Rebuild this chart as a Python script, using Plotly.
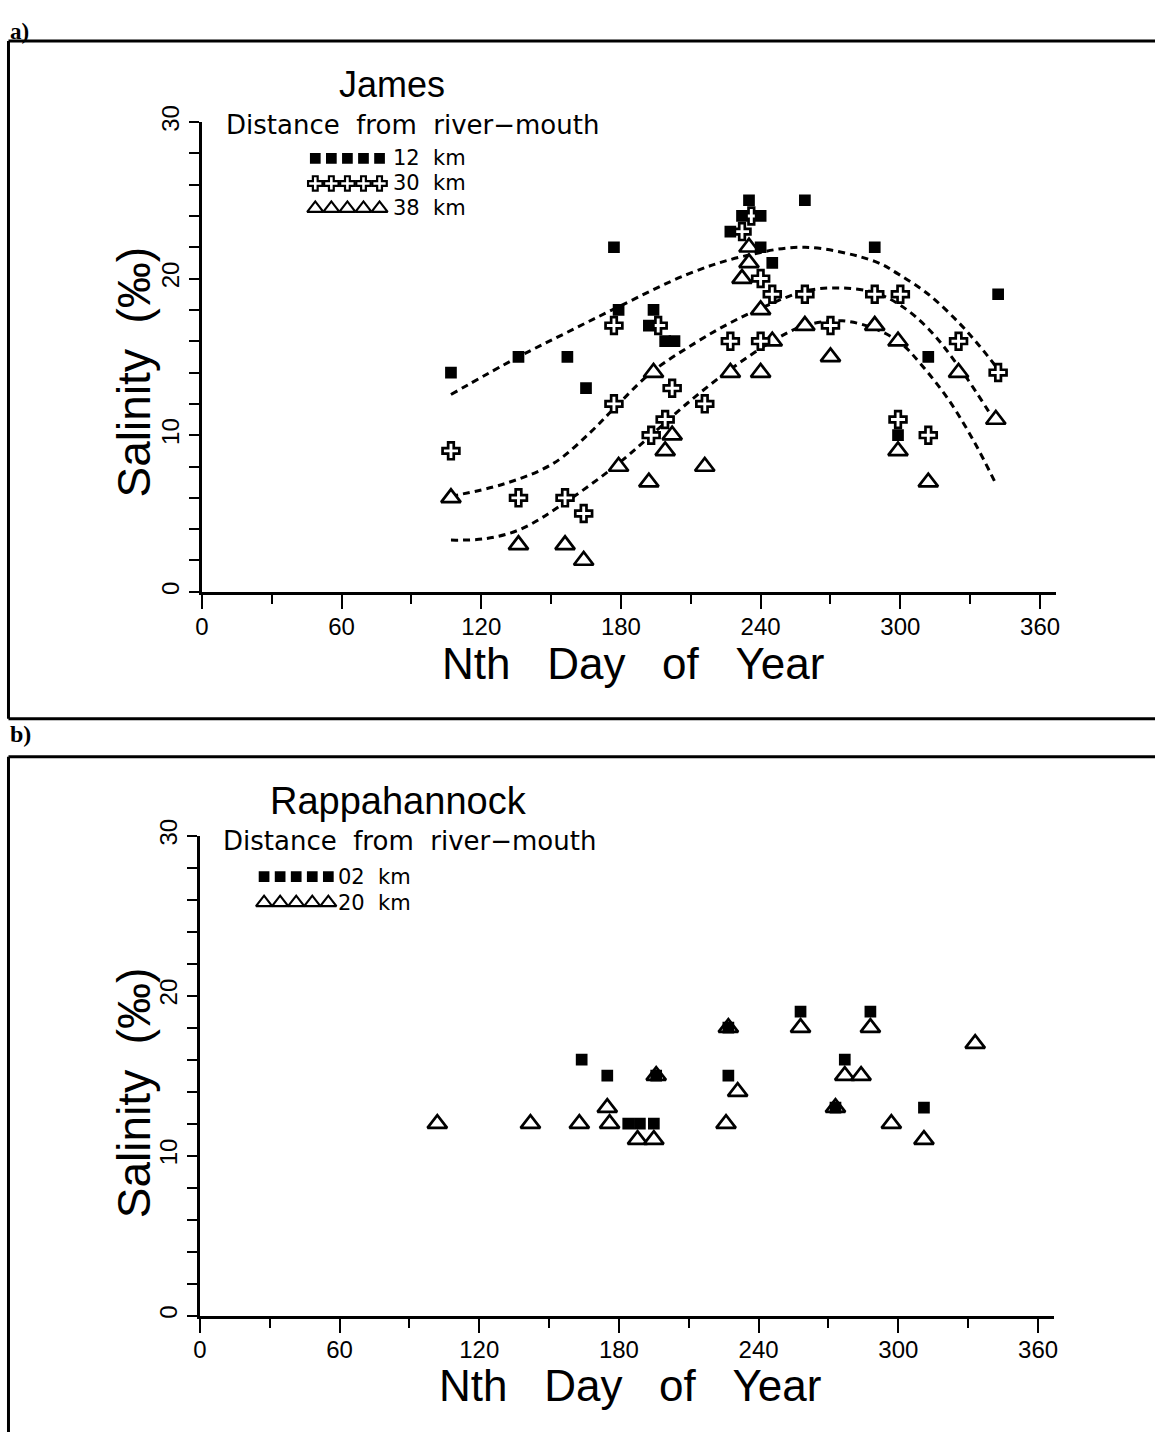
import plotly.graph_objects as go

W, H = 1159, 1435
# placement of the figure inside the captured page: offset and scale
AX, AY, S = 8.0, 17.0, 0.9864

# ---- James River: day of year vs salinity at three stations ----
james_12_day = [107, 136, 157, 165, 177, 179, 192, 194, 199, 203, 227, 232, 235, 240, 240, 245, 259, 289, 299, 312, 342]
james_12_sal = [14, 15, 15, 13, 22, 18, 17, 18, 16, 16, 23, 24, 25, 24, 22, 21, 25, 22, 10, 15, 19]

james_30_day = [107, 136, 156, 164, 177, 177, 193, 196, 199, 202, 216, 227, 232, 236, 240, 240, 245, 259, 270, 289, 300, 299, 312, 325, 342]
james_30_sal = [9, 6, 6, 5, 12, 17, 10, 17, 11, 13, 12, 16, 23, 24, 20, 16, 19, 19, 17, 19, 19, 11, 10, 16, 14]

james_38_day = [107, 136, 156, 164, 179, 192, 194, 199, 202, 216, 227, 232, 235, 235, 240, 240, 245, 259, 270, 289, 299, 299, 312, 325, 341]
james_38_sal = [6, 3, 3, 2, 8, 7, 14, 9, 10, 8, 14, 20, 21, 22, 18, 14, 16, 17, 15, 17, 16, 9, 7, 14, 11]

# fitted seasonal curves (dashed), sampled along each curve
fit_12_day = [107, 136, 156, 179, 209, 232, 259, 289, 299, 312, 325, 334, 342]
fit_12_sal = [12.6, 15.0, 16.5, 18.2, 20.3, 21.4, 22.0, 21.1, 20.3, 19.0, 17.2, 15.7, 14.2]

fit_30_day = [107, 130, 151, 167, 177, 193, 212, 226, 240, 259, 274, 289, 300, 312, 325, 341]
fit_30_sal = [6.1, 6.9, 8.2, 10.2, 11.7, 14.0, 15.9, 17.1, 18.1, 19.2, 19.4, 19.1, 18.3, 16.8, 14.4, 10.8]

fit_38_day = [107, 122, 137, 156, 179, 193, 209, 227, 245, 259, 275, 289, 300, 309, 321, 332, 341]
fit_38_sal = [3.3, 3.4, 4.0, 5.7, 8.2, 10.0, 12.1, 14.2, 16.0, 17.0, 17.3, 16.8, 15.9, 14.5, 12.2, 9.5, 6.9]

# ---- Rappahannock River: two stations ----
rapp_02_day = [164, 175, 184, 189, 195, 196, 227, 227, 258, 273, 277, 288, 311]
rapp_02_sal = [16, 15, 12, 12, 12, 15, 18, 15, 19, 13, 16, 19, 13]

rapp_20_day = [102, 142, 163, 175, 176, 188, 195, 196, 226, 227, 231, 258, 273, 277, 284, 288, 297, 311, 333]
rapp_20_sal = [12, 12, 12, 13, 12, 11, 11, 15, 12, 18, 14, 18, 13, 15, 15, 18, 12, 11, 17]

# legend entries
james_keys = ["12", "30", "38"]
rapp_keys = ["02", "20"]

# axis ticks
x_major = [0, 60, 120, 180, 240, 300, 360]
x_minor = [30, 90, 150, 210, 270, 330]
y_ticks = list(range(0, 31, 2))
y_text = [str(v) if v % 10 == 0 else "" for v in y_ticks]

TICK_FONT = dict(family="Liberation Sans, Arial, sans-serif", size=24, color="black")
TEXT_FONT = "Liberation Sans, Arial, sans-serif"
HEAD_FONT = "DejaVu Sans, sans-serif"
NB = "\u00a0"

SQUARE = dict(symbol="square", size=9, color="black", line=dict(color="black", width=2.7))
CROSS = dict(symbol="cross", size=14, color="white", line=dict(color="black", width=2.7))
TRIANGLE = dict(symbol="triangle-up", size=17, color="white", line=dict(color="black", width=2.7))


def fx(x):
    """page x -> figure pixel"""
    return (x - AX) / S


def fy(y):
    """page y (from top) -> figure pixel"""
    return (y - AY) / S


def px(x):
    return fx(x) / W


def py(y):
    return 1 - fy(y) / H


fig = go.Figure()


def add_fit(day, sal, xa, ya):
    fig.add_trace(go.Scatter(x=day, y=sal, mode="lines", xaxis=xa, yaxis=ya,
                             line=dict(color="black", width=3, dash="7px,5px", shape="spline"),
                             showlegend=False, hoverinfo="skip"))


def add_pts(day, sal, marker, xa, ya):
    fig.add_trace(go.Scatter(x=day, y=sal, mode="markers", xaxis=xa, yaxis=ya, marker=marker,
                             cliponaxis=False, showlegend=False))


# panel a
add_fit(fit_12_day, fit_12_sal, "x", "y")
add_fit(fit_30_day, fit_30_sal, "x", "y")
add_fit(fit_38_day, fit_38_sal, "x", "y")
add_pts(james_38_day, james_38_sal, TRIANGLE, "x", "y")
add_pts(james_30_day, james_30_sal, CROSS, "x", "y")
add_pts(james_12_day, james_12_sal, SQUARE, "x", "y")

# panel b
add_pts(rapp_20_day, rapp_20_sal, TRIANGLE, "x2", "y2")
add_pts(rapp_02_day, rapp_02_sal, SQUARE, "x2", "y2")


# key symbols: rows of five markers on a pixel overlay axis
def key_row(x_left, y, marker, n=5, step=16):
    xs = [fx(x_left + i * step) for i in range(n)]
    fig.add_trace(go.Scatter(x=xs, y=[fy(y)] * n, mode="markers", xaxis="x3", yaxis="y3",
                             marker=marker, cliponaxis=False, showlegend=False, hoverinfo="skip"))


KEY_LINE = dict(color="black", width=2.2)
rows_a = [158.5, 183.5, 208.5]
rows_b = [877, 903]
key_row(315, rows_a[0], dict(SQUARE, size=8))
key_row(315, rows_a[1], dict(CROSS, size=12, line=KEY_LINE))
key_row(315, rows_a[2], dict(TRIANGLE, size=14, line=KEY_LINE))
key_row(264, rows_b[0], dict(SQUARE, size=8))
key_row(264, rows_b[1], dict(TRIANGLE, size=14, line=KEY_LINE))


def xaxis(domain, anchor):
    return dict(domain=domain, anchor=anchor, range=[0, 367], showgrid=False, zeroline=False,
                showline=True, linecolor="black", linewidth=3,
                tickmode="array", tickvals=x_major, ticks="outside", ticklen=14, tickwidth=2,
                tickcolor="black", tickfont=TICK_FONT, ticklabelstandoff=-3,
                minor=dict(tickmode="array", tickvals=x_minor, ticks="outside", ticklen=9,
                           tickwidth=2, tickcolor="black"))


def yaxis(domain, anchor):
    return dict(domain=domain, anchor=anchor, range=[0, 30], showgrid=False, zeroline=False,
                showline=True, linecolor="black", linewidth=3,
                tickmode="array", tickvals=y_ticks, ticktext=y_text, ticks="outside",
                ticklen=10, tickwidth=2, tickcolor="black", tickangle=-90, tickfont=TICK_FONT)


fig.update_layout(
    width=W, height=H, margin=dict(l=0, r=0, t=0, b=0),
    paper_bgcolor="white", plot_bgcolor="rgba(0,0,0,0)",
    xaxis=xaxis([px(202), px(1053)], "y"),
    yaxis=yaxis([py(592), py(122)], "x"),
    xaxis2=xaxis([px(200), px(1051)], "y2"),
    yaxis2=yaxis([py(1316), py(836)], "x2"),
    xaxis3=dict(domain=[0, 1], range=[0, W], visible=False, anchor="y3", fixedrange=True),
    yaxis3=dict(domain=[0, 1], range=[H, 0], visible=False, anchor="x3", fixedrange=True),
)

ann = []


def text(x, y, s, size, xanchor="left", family=TEXT_FONT, angle=0, yanchor="middle", **kw):
    ann.append(dict(x=px(x), y=min(py(y), 1), xref="paper", yref="paper", text=s, showarrow=False,
                    xanchor=xanchor, yanchor=yanchor, textangle=angle,
                    font=dict(family=family, size=size, color="black"), **kw))


# panel labels
text(9, 0, "<b>a)</b>", 23, family="Liberation Serif, Times New Roman, serif", yanchor="top")
text(9, 734, "<b>b)</b>", 24, family="Liberation Serif, Times New Roman, serif")

# axis titles
sal_title = "Salinity" + NB * 2 + "(‰)"
day_title = NB.join(["Nth", "", "", "Day", "", "", "of", "", "", "Year"])
text(134, 373, sal_title, 46, xanchor="center", angle=-90)
text(134, 1094, sal_title, 46, xanchor="center", angle=-90)
text(631, 664, day_title, 44, xanchor="center")
text(628, 1386, day_title, 44, xanchor="center")

# panel headers and key labels
dist = NB.join(["Distance", "", "from", "", "river−mouth"])
text(391, 85, "James", 36, xanchor="center")
text(224, 125, dist, 26, family=HEAD_FONT)
for km, yy in zip(james_keys, rows_a):
    text(390, yy, km + NB * 2 + "km", 21, family=HEAD_FONT)

text(398, 801, "Rappahannock", 38, xanchor="center")
text(221, 841, dist, 26, family=HEAD_FONT)
for km, yy in zip(rapp_keys, rows_b):
    text(336, yy, km + NB * 2 + "km", 21, family=HEAD_FONT)

fig.update_layout(annotations=ann)

# frames around the two panels
frame = dict(type="line", xref="paper", yref="paper", line=dict(color="black", width=3))
left = 1.5 / W
shapes = [
    dict(frame, x0=left, x1=1, y0=py(41), y1=py(41)),
    dict(frame, x0=left, x1=left, y0=py(41), y1=py(719)),
    dict(frame, x0=left, x1=1, y0=py(719), y1=py(719)),
    dict(frame, x0=left, x1=1, y0=py(757), y1=py(757)),
    dict(frame, x0=left, x1=left, y0=py(757), y1=0),
]
fig.update_layout(shapes=shapes)

fig.write_html("out.html")
